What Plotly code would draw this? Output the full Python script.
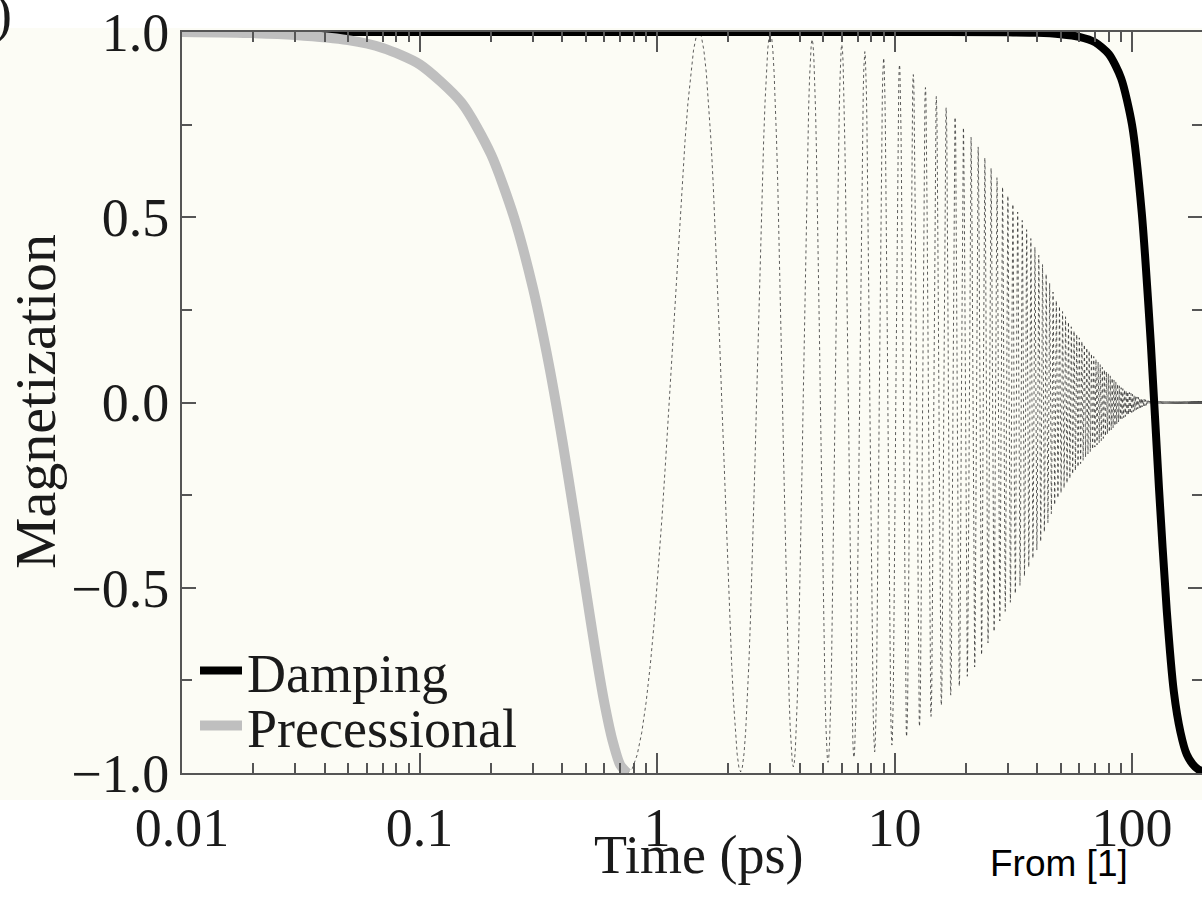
import numpy as np
import plotly.graph_objects as go

# ---- data ----
# Precessional switching (thick grey curve)
prec_t = [0.01, 0.02, 0.03, 0.05, 0.07, 0.1, 0.15, 0.2, 0.25, 0.3, 0.35, 0.4,
          0.45, 0.5, 0.55, 0.6, 0.65, 0.7, 0.75]
prec_m = [1.0, 0.997, 0.992, 0.978, 0.957, 0.913, 0.81, 0.67, 0.50, 0.31, 0.105,
          -0.105, -0.31, -0.50, -0.67, -0.81, -0.913, -0.978, -1.0]

# Damping switching (thick black curve)
damp_t = [0.01, 1, 10, 30, 40, 50, 60, 70, 80, 90, 100, 110, 120, 130, 140,
          150, 160, 170, 180, 190, 200, 210]
damp_m = [1.0, 1.0, 1.0, 0.999, 0.998, 0.994, 0.987, 0.972, 0.94, 0.875, 0.75,
          0.51, 0.16, -0.235, -0.56, -0.78, -0.89, -0.95, -0.976, -0.99, -0.996, -1.0]

# Thin precessing trace: period and envelope (upper / lower extrema)
osc_period = 1.5   # ps between successive maxima
env_t = [0.75, 2, 3, 4.5, 6, 7.5, 9, 10.5, 12, 13.5, 15, 16.5, 18, 22, 28, 34,
         41, 48, 56, 65, 75, 90, 105, 118, 210]
env_hi = [1.0, 1.0, 1.0, 0.98, 0.966, 0.947, 0.93, 0.912, 0.885, 0.85, 0.826,
          0.796, 0.77, 0.70, 0.59, 0.50, 0.39, 0.275, 0.20, 0.145, 0.095, 0.04,
          0.015, 0.004, 0.004]
env_lo = [-1.0, -1.0, -0.99, -0.978, -0.965, -0.952, -0.935, -0.915, -0.89, -0.86,
          -0.835, -0.80, -0.78, -0.71, -0.585, -0.49, -0.38, -0.265, -0.195, -0.14,
          -0.10, -0.045, -0.018, -0.004, -0.004]

x_major = [0.01, 0.1, 1, 10, 100]
x_major_text = ["0.01", "0.1", "1", "10", "100"]
y_major = [-1.0, -0.5, 0.0, 0.5, 1.0]
y_major_text = ["\u22121.0", "\u22120.5", "0.0", "0.5", "1.0"]
y_minor = [-0.75, -0.25, 0.25, 0.75]

# ---- build thin oscillation from period + envelope ----
osc_t = np.arange(env_t[0], env_t[-1], osc_period / 40.0)
lt = np.log10(osc_t)
hi = np.interp(lt, np.log10(env_t), env_hi)
lo = np.interp(lt, np.log10(env_t), env_lo)
osc_m = (hi + lo) / 2 + (hi - lo) / 2 * np.cos(2 * np.pi * osc_t / osc_period)

x_minor = [m * d for d in [0.01, 0.1, 1, 10, 100] for m in range(2, 10)]

SERIF = "Liberation Serif, Times New Roman, serif"
FS = 54
TXT = "#1a1a1a"
AX = "#555555"

L, R, T, B = 182, 0, 32, 137
W, H = 1202, 910
pw, ph = W - L - R, H - T - B


def px(xp):
    return (xp - L) / pw


def py(yp):
    return (H - B - yp) / ph


fig = go.Figure()
fig.add_trace(go.Scatter(x=osc_t, y=osc_m, mode="lines", showlegend=False,
                         line=dict(color="#333333", width=0.8, dash="dot"),
                         hoverinfo="skip"))
fig.add_trace(go.Scatter(x=damp_t, y=damp_m, mode="lines", name="Damping",
                         legend="legend",
                         line=dict(color="#000000", width=8, shape="spline", smoothing=0.7)))
fig.add_trace(go.Scatter(x=prec_t, y=prec_m, mode="lines", name="Precessional",
                         legend="legend2",
                         line=dict(color="#bfbfbf", width=10, shape="spline", smoothing=0.7)))

axis_common = dict(showline=True, linecolor=AX, linewidth=2, mirror="ticks",
                   ticks="inside", tickcolor=AX, tickwidth=2, showgrid=False,
                   zeroline=False,
                   tickfont=dict(family=SERIF, size=FS, color=TXT))

fig.update_xaxes(type="log", range=[np.log10(0.01), np.log10(0.01) + pw / 237.5],
                 tickmode="array", tickvals=x_major, ticktext=x_major_text,
                 ticklen=20, ticklabelstandoff=6,
                 minor=dict(tickmode="array", tickvals=x_minor, ticks="inside",
                            ticklen=10, tickcolor=AX, tickwidth=2),
                 **axis_common)
fig.update_yaxes(range=[-1, 1], tickmode="array", tickvals=y_major,
                 ticktext=y_major_text, ticklen=14, ticklabelstandoff=0,
                 minor=dict(tickmode="array", tickvals=y_minor, ticks="inside",
                            ticklen=10, tickcolor=AX, tickwidth=2),
                 **axis_common)

leg_common = dict(xanchor="left", yanchor="top", bgcolor="rgba(0,0,0,0)",
                  font=dict(family=SERIF, size=FS, color=TXT), itemwidth=42)

fig.update_layout(
    width=W, height=H,
    margin=dict(l=L, r=R, t=T, b=B, autoexpand=False),
    paper_bgcolor="#ffffff",
    plot_bgcolor="rgba(0,0,0,0)",
    showlegend=True,
    legend=dict(x=px(195), y=py(629), **leg_common),
    legend2=dict(x=px(195), y=py(684), **leg_common),
    shapes=[dict(type="rect", xref="paper", yref="paper", x0=px(-5), x1=px(1210),
                 y0=py(800), y1=py(28), fillcolor="#fcfcf5", line=dict(width=0),
                 layer="below")],
    annotations=[
        dict(text="Time (ps)", xref="paper", yref="paper", x=px(699), y=py(855),
             xanchor="center", yanchor="middle", showarrow=False,
             font=dict(family=SERIF, size=FS, color=TXT)),
        dict(text="Magnetization", xref="paper", yref="paper", x=px(35), y=py(402),
             xanchor="center", yanchor="middle", textangle=-90, showarrow=False,
             font=dict(family=SERIF, size=58, color=TXT)),
        dict(text="From [1]", xref="paper", yref="paper", x=px(988), y=py(863),
             xanchor="left", yanchor="middle", showarrow=False,
             font=dict(family="Liberation Sans, Arial, sans-serif", size=37, color="#000000")),
        dict(text=")", xref="paper", yref="paper", x=px(-8), y=py(14),
             xanchor="left", yanchor="middle", showarrow=False,
             font=dict(family=SERIF, size=FS, color=TXT)),
    ],
)

fig.write_html("out.html")
